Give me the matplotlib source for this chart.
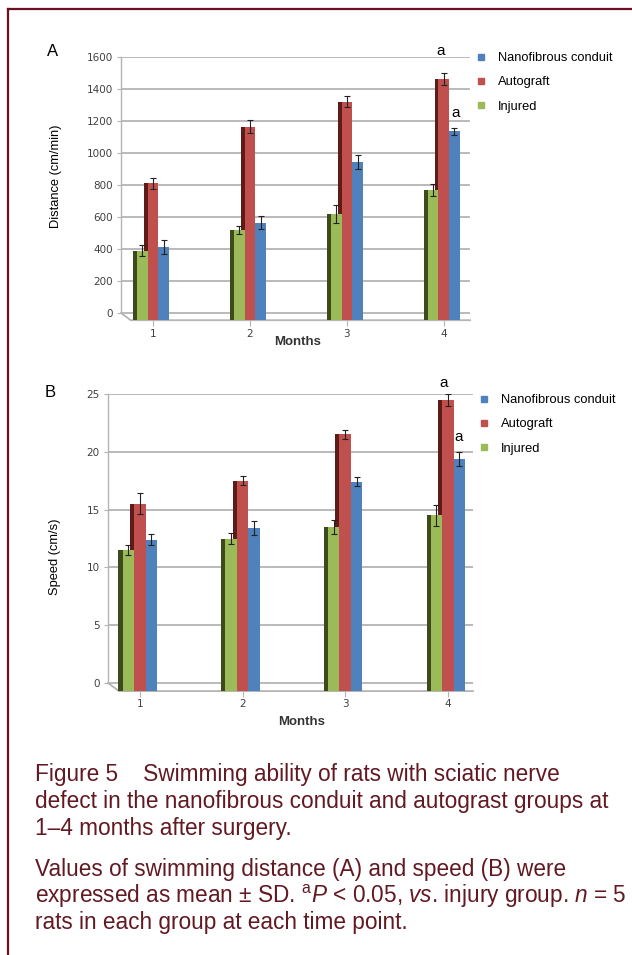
import numpy as np
import matplotlib
matplotlib.use("Agg")
import matplotlib.pyplot as plt
from matplotlib.lines import Line2D
from matplotlib import font_manager

# --- données ---
months = [1, 2, 3, 4]
month_labels = ["1", "2", "3", "4"]
series_names = ["Nanofibrous conduit", "Autograft", "Injured"]

# A : distance (cm/min)
dist_injured = [390, 520, 620, 770]
dist_injured_sd = [33, 25, 58, 37]
dist_autograft = [810, 1165, 1320, 1465]
dist_autograft_sd = [33, 40, 35, 38]
dist_nano = [415, 565, 945, 1135]
dist_nano_sd = [44, 40, 45, 22]

# B : vitesse (cm/s)
speed_injured = [11.5, 12.5, 13.5, 14.5]
speed_injured_sd = [0.4, 0.5, 0.6, 0.9]
speed_autograft = [15.5, 17.5, 21.5, 24.5]
speed_autograft_sd = [0.9, 0.4, 0.4, 0.5]
speed_nano = [12.4, 13.4, 17.4, 19.4]
speed_nano_sd = [0.5, 0.6, 0.4, 0.6]

GREEN, RED, BLUE = "#9BBB59", "#C0504D", "#4F81BD"
GREEN_D, RED_D, BLUE_D = "#3d4a1c", "#5e1b18", "#2a4a78"
GRID = "#b4b4b4"
CAPTION = "#621922"

available = {f.name for f in font_manager.fontManager.ttflist}
NARROW = "Liberation Sans Narrow" if "Liberation Sans Narrow" in available else "DejaVu Sans"
plt.rcParams["font.family"] = ["Liberation Sans", "DejaVu Sans"]
plt.rcParams["mathtext.fontset"] = "custom"
plt.rcParams["mathtext.rm"] = "Liberation Sans"
plt.rcParams["mathtext.it"] = "Liberation Sans:italic"

W, H = 632, 955
fig = plt.figure(figsize=(W / 100, H / 100), dpi=100)


def px(x, y):
    return x / W, 1 - y / H


def draw_panel(rect, groups, ymax, ystep, floor, width, dx_floor, xlim, sig_rows):
    ax = fig.add_axes(rect)
    x = np.array(months, dtype=float)
    offsets = [-width, 0, width]
    side = width * 0.36
    # faces latérales sombres (effet 3D)
    for (vals, sd, col, dcol), off in zip(groups, offsets):
        ax.bar(x + off - width / 2 - side / 2, np.array(vals) - floor, width=side,
               bottom=floor, color=dcol, zorder=2, linewidth=0)
    for (vals, sd, col, dcol), off in zip(groups, offsets):
        ax.bar(x + off, np.array(vals) - floor, width=width, bottom=floor,
               color=col, zorder=3, linewidth=0)
        ax.errorbar(x + off, vals, yerr=sd, fmt="none", ecolor="#222222",
                    elinewidth=0.8, capsize=2, capthick=0.8, zorder=4)
    ax.set_xlim(*xlim)
    ax.set_ylim(floor, ymax)
    ax.set_yticks(np.arange(0, ymax + ystep / 2, ystep))
    ax.set_xticks(months)
    ax.set_xticklabels(month_labels)
    ax.yaxis.grid(True, color=GRID, linewidth=1.3, zorder=1)
    ax.set_axisbelow(True)
    for s in ["top", "right", "bottom"]:
        ax.spines[s].set_visible(False)
    ax.spines["left"].set_bounds(0, ymax)
    ax.spines["left"].set_color(GRID)
    ax.spines["left"].set_linewidth(1.0)
    # sol en perspective
    ax.plot([xlim[0], xlim[0] + dx_floor, xlim[1]], [0, floor, floor],
            color=GRID, linewidth=1.3, clip_on=False, zorder=1)
    ax.tick_params(axis="y", length=3, width=0.8, color=GRID, pad=3,
                   labelsize=7.5, labelcolor="#404040")
    ax.tick_params(axis="x", length=4, width=0.8, color=GRID, pad=2,
                   labelsize=7.5, labelcolor="#404040")
    for lab in ax.get_xticklabels() + ax.get_yticklabels():
        lab.set_family(NARROW)
    for (xx, yy) in sig_rows:
        fig.text(*px(xx, yy), "a", fontsize=11, ha="center", va="center")
    return ax


handles = [Line2D([], [], marker="s", linestyle="none", markersize=4.5,
                  markerfacecolor=c, markeredgecolor=c) for c in (BLUE, RED, GREEN)]


def add_legend(ax, x, y):
    ax.legend(handles, series_names, loc="upper left", bbox_to_anchor=px(x, y),
              bbox_transform=fig.transFigure, frameon=False, fontsize=9.3,
              handlelength=0.8, handletextpad=0.9, labelspacing=0.95,
              borderpad=0, borderaxespad=0)


# --- panneau A ---
axA = draw_panel([121 / W, 1 - 320.2 / H, 349 / W, (320.2 - 57) / H],
                 [(dist_injured, dist_injured_sd, GREEN, GREEN_D),
                  (dist_autograft, dist_autograft_sd, RED, RED_D),
                  (dist_nano, dist_nano_sd, BLUE, BLUE_D)],
                 1600, 200, -45, 0.11, 0.1, (0.67, 4.27),
                 [(441, 51), (456, 113)])
add_legend(axA, 476, 52)
fig.text(*px(56, 176), "Distance (cm/min)", rotation=90, fontsize=9.3,
         ha="center", va="center")
fig.text(*px(298, 342), "Months", fontsize=9.5, fontweight="bold",
         color="#333333", ha="center", va="center")
fig.text(*px(53, 51), "A", fontsize=12, ha="center", va="center")

# --- panneau B ---
axB = draw_panel([108 / W, 1 - 691.1 / H, 365 / W, (691.1 - 394) / H],
                 [(speed_injured, speed_injured_sd, GREEN, GREEN_D),
                  (speed_autograft, speed_autograft_sd, RED, RED_D),
                  (speed_nano, speed_nano_sd, BLUE, BLUE_D)],
                 25, 5, -0.7, 0.112, 0.107, (0.69, 4.244),
                 [(444, 383), (459, 437)])
add_legend(axB, 479, 394)
fig.text(*px(55, 557), "Speed (cm/s)", rotation=90, fontsize=9.3,
         ha="center", va="center")
fig.text(*px(302, 722), "Months", fontsize=9.5, fontweight="bold",
         color="#333333", ha="center", va="center")
fig.text(*px(50, 392), "B", fontsize=12, ha="center", va="center")

# --- cadre ---
fig.add_artist(Line2D([8 / W, 8 / W], [0, 1 - 9 / H], transform=fig.transFigure,
                      color="#6b1020", linewidth=1.6))
fig.add_artist(Line2D([8 / W, 1], [1 - 9 / H, 1 - 9 / H], transform=fig.transFigure,
                      color="#6b1020", linewidth=1.6))

# --- légende de la figure ---
caption = [
    (781, "Figure 5    Swimming ability of rats with sciatic nerve"),
    (808, "defect in the nanofibrous conduit and autograst groups at"),
    (835, "1\u20134 months after surgery."),
    (876, "Values of swimming distance (A) and speed (B) were"),
    (903, "expressed as mean \u00b1 SD. $^{\\mathrm{a}}P$ < 0.05, $vs$. injury group. $n$ = 5"),
    (929, "rats in each group at each time point."),
]
for yy, txt in caption:
    fig.text(*px(35, yy), txt, fontsize=16.3, color=CAPTION, ha="left", va="baseline")

fig.savefig("out.png", dpi=100)
